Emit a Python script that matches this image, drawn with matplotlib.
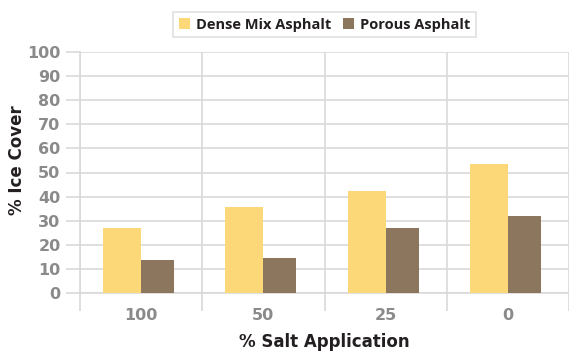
import numpy as np
import matplotlib
matplotlib.use("Agg")
import matplotlib.pyplot as plt

# Ice cover by salt application rate
salt_levels = ["100", "50", "25", "0"]
dense_mix = [27, 35.7, 42.3, 53.5]
porous = [13.7, 14.5, 27, 32]
y_ticks = list(range(0, 101, 10))

DENSE_COLOR = "#FCD878"
POROUS_COLOR = "#8C765D"
GRID_COLOR = "#D9D9D9"
TICK_COLOR = "#8A8A8A"
TEXT_COLOR = "#231F20"

plt.rcParams['font.family'] = ['DejaVu Sans']

fig = plt.figure(figsize=(5.69, 3.58), dpi=100)
ax = fig.add_axes([80 / 569, 65 / 358, 489 / 569, 241 / 358])

x = np.arange(len(salt_levels))
# dense mix sits left of the category centre, porous to the right
ax.bar(x - 0.31, dense_mix, width=0.31, align='edge', color=DENSE_COLOR,
       label='Dense Mix Asphalt', zorder=3)
ax.bar(x, porous, width=0.27, align='edge', color=POROUS_COLOR,
       label='Porous Asphalt', zorder=3)

ax.set_xlim(-0.5, len(salt_levels) - 0.5)
ax.set_ylim(0, 100)

ax.set_yticks(y_ticks)
ax.set_yticklabels([str(v) for v in y_ticks])
ax.yaxis.grid(True, color=GRID_COLOR, linewidth=1.2, zorder=0)
ax.tick_params(axis='y', length=10, width=1.2, color=GRID_COLOR,
               labelsize=11.5, labelcolor=TICK_COLOR, pad=4)

ax.set_xticks(x)
ax.set_xticklabels(salt_levels)
ax.set_xticks(np.arange(-0.5, len(salt_levels)), minor=True)
ax.xaxis.grid(True, which='minor', color=GRID_COLOR, linewidth=1.2, zorder=0)
ax.tick_params(axis='x', which='major', length=0, labelsize=11.5,
               labelcolor=TICK_COLOR, pad=11)
ax.tick_params(axis='x', which='minor', length=13, width=1.2, color=GRID_COLOR)
for lbl in ax.get_xticklabels() + ax.get_yticklabels():
    lbl.set_fontweight('bold')

for side in ['top', 'right']:
    ax.spines[side].set_visible(False)
for side in ['left', 'bottom']:
    ax.spines[side].set_color(GRID_COLOR)
    ax.spines[side].set_linewidth(1.2)

ax.set_xlabel('% Salt Application', fontsize=12, fontweight='bold',
              color=TEXT_COLOR, labelpad=7)
ax.set_ylabel('% Ice Cover', fontsize=12, fontweight='bold',
              color=TEXT_COLOR)
ax.yaxis.set_label_coords(-0.110, 0.55)

leg = ax.legend(loc='lower center', bbox_to_anchor=(0.5, 1.03), ncol=2,
                frameon=True, fancybox=False, handlelength=0.75,
                handleheight=0.75, handletextpad=0.4, columnspacing=0.8,
                borderpad=0.4,
                prop={'family': 'Open Sans', 'weight': 'bold', 'size': 10.5})
leg.get_frame().set_edgecolor(GRID_COLOR)
leg.get_frame().set_linewidth(1.2)
for t in leg.get_texts():
    t.set_color(TEXT_COLOR)

fig.savefig('out.png', dpi=100)
